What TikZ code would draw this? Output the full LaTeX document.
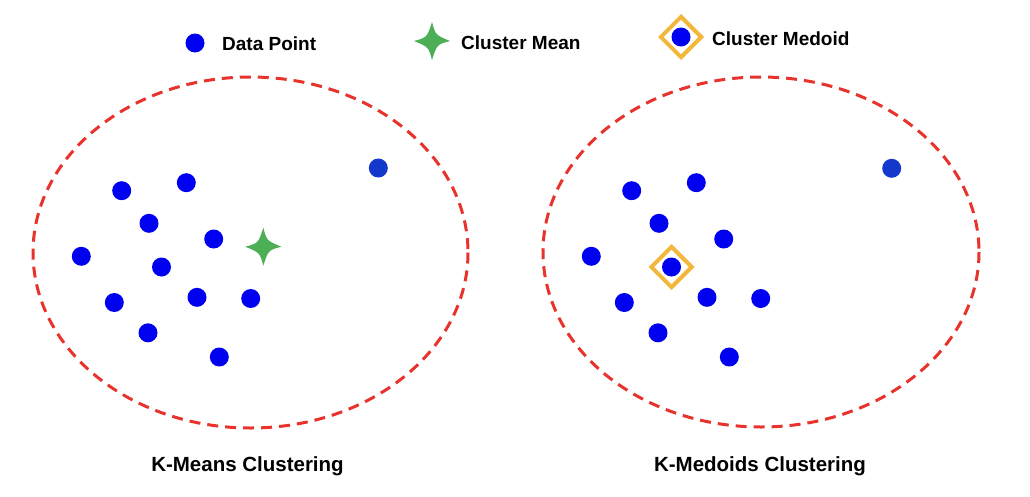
\documentclass[tikz,border=0pt]{standalone}
\usepackage{fontspec}
\setmainfont{Liberation Sans}
\usetikzlibrary{shapes.geometric}
\definecolor{ptblue}{HTML}{0000F0}
\definecolor{farblue}{HTML}{1538CC}
\definecolor{meangreen}{HTML}{4CAE55}
\definecolor{medoidgold}{HTML}{F3B73C}
\definecolor{ringred}{HTML}{E8332D}
\tikzset{
  datapt/.style={circle, fill=ptblue, inner sep=0pt, minimum size=19pt},
  farpt/.style={datapt, fill=farblue},
  ring/.style={draw=ringred, line width=3pt, dash pattern=on 11pt off 7pt},
  medoidbox/.style={diamond, draw=medoidgold, line width=4pt, inner sep=0pt, minimum size=42pt},
  legtext/.style={anchor=west, inner sep=0pt, font=\fontsize{19}{22}\selectfont\bfseries},
  title/.style={inner sep=0pt, font=\fontsize{20.5}{24}\selectfont\bfseries},
}
\newcommand{\meanstar}[2]{%
  \fill[meangreen] (#1,#2) ++(0,-19) .. controls +(3.5,13) .. ++(18,19)
    .. controls +(-13,3.5) .. ++(-18,19) .. controls +(-3.5,-13) .. ++(-18,-19)
    .. controls +(13,-3.5) .. cycle;}

\begin{document}
\begin{tikzpicture}[x=1pt, y=-1pt]
  \useasboundingbox (0,0) rectangle (1030,496);

  % legend
  \node[datapt] (legpt) at (195,43) {};
  \node[legtext] (legpttext) at (222,44) {Data Point};
  \meanstar{432}{41}
  \coordinate (legmean) at (432,41);
  \node[legtext] (legmeantext) at (461,43) {Cluster Mean};
  \node[medoidbox] (legmedbox) at (681,37) {};
  \node[datapt] (legmed) at (legmedbox) {};
  \node[legtext] (legmedtext) at (712,39) {Cluster Medoid};

  % clusters
  \draw[ring] (250.5,252.5) ellipse [x radius=217.5, y radius=175.5];
  \draw[ring] (761,252) ellipse [x radius=218, y radius=175];

  \foreach \px/\py [count=\i] in {121.7/190.7, 186.3/182.7, 149/223.3, 213.7/239,
      81.3/256.3, 161.5/267, 114.3/302.5, 197/297.3, 250.7/298.5, 148/332.8, 219.3/357}{
    \node[datapt] (km\i) at (\px,\py) {};
    \node[datapt] (kmed\i) at (\px+510,\py) {};
  }
  \node[farpt] (kmfar) at (378.3,168) {};
  \node[farpt] (kmedfar) at (891.7,168.3) {};

  \meanstar{263.3}{246.7}
  \node[medoidbox] (medoid) at (kmed6) {};

  \node[title] (kmtitle) at (247.5,466) {K-Means Clustering};
  \node[title] (kmedtitle) at (760,466) {K-Medoids Clustering};
\end{tikzpicture}
\end{document}
